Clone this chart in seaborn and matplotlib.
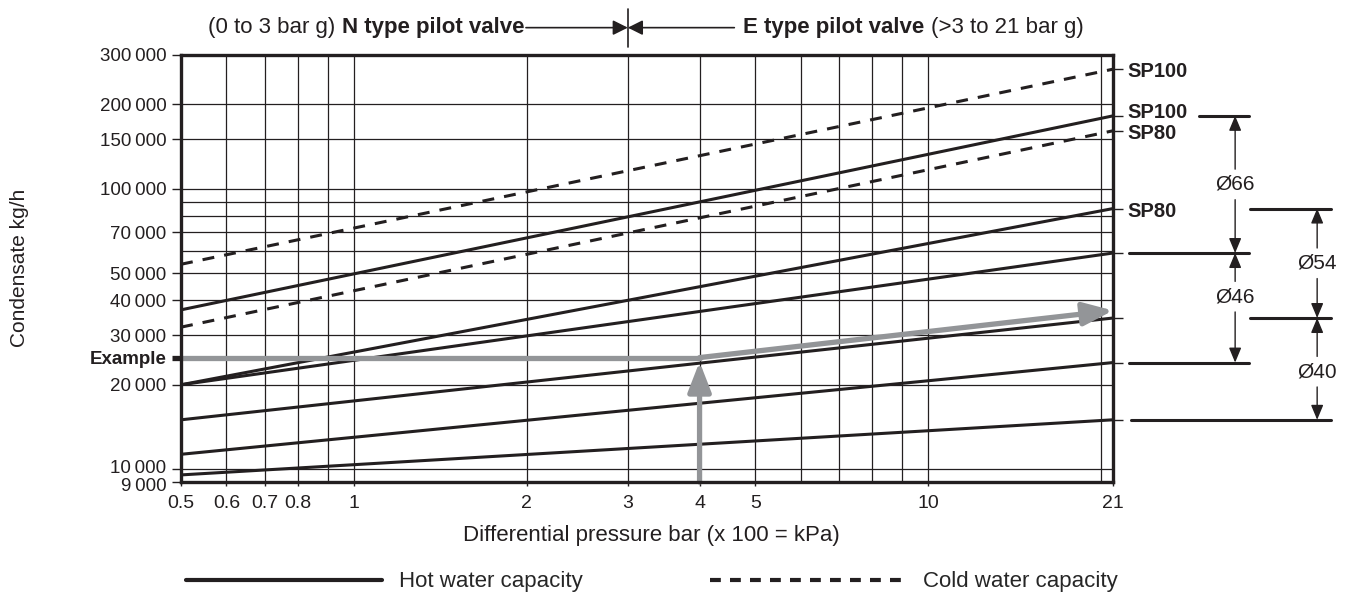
import numpy as np
import pandas as pd
import matplotlib
matplotlib.use('Agg')
import matplotlib.pyplot as plt
import matplotlib.transforms as mtransforms
from matplotlib.lines import Line2D
from matplotlib.ticker import NullLocator
import seaborn as sns

# --- data (kg/h at 0.5 bar and at 21 bar) ---
pressure = [0.5, 21]

hot_sp100 = [37000, 182000]    # top of Ø66
hot_sp80 = [20000, 85000]      # top of Ø54
hot_66_low = [20000, 59000]    # Ø66 / Ø46 boundary
hot_54_low = [15000, 34600]    # Ø54 / Ø40 boundary
hot_46_low = [11300, 24000]    # bottom of Ø46
hot_40_low = [9540, 15000]     # bottom of Ø40

cold_sp100 = [53800, 267000]
cold_sp80 = [32100, 161000]

example_dp = 4
example_flow = 25000
example_end = 36800

x_ticks = [0.5, 0.6, 0.7, 0.8, 1, 2, 3, 4, 5, 10, 21]
x_ticklabels = ['0.5', '0.6', '0.7', '0.8', '1', '2', '3', '4', '5', '10', '21']
y_ticks = [9000, 10000, 20000, 25000, 30000, 40000, 50000, 70000,
           100000, 150000, 200000, 300000]
y_ticklabels = ['9\u2009000', '10\u2009000', '20\u2009000', 'Example', '30\u2009000',
                '40\u2009000', '50\u2009000', '70\u2009000', '100\u2009000',
                '150\u2009000', '200\u2009000', '300\u2009000']
x_grid = [0.6, 0.7, 0.8, 0.9, 1, 2, 3, 4, 5, 6, 7, 8, 9, 10, 20]
y_grid = [10000, 20000, 30000, 40000, 50000, 60000, 70000, 80000, 90000,
          100000, 150000, 200000]

# --- style ---
sns.set_style('ticks')
plt.rcParams['font.family'] = ['Liberation Sans', 'DejaVu Sans']
BLACK = '#231f20'
GREY = '#939598'
LW = 2.2
DASH = (0, (3.9, 3.3))

fig = plt.figure(figsize=(13.48, 5.95), dpi=100)
ax = fig.add_axes([0.1343, 0.1899, 0.6914, 0.7177])
ax.set_xscale('log')
ax.set_yscale('log')

for v in x_grid:
    ax.axvline(v, color=BLACK, lw=0.9, zorder=1)
for v in y_grid:
    ax.axhline(v, color=BLACK, lw=0.9, zorder=1)

# long-form table for seaborn
rows = []
for name, vals, kind in [('hot_sp100', hot_sp100, 'hot'), ('hot_sp80', hot_sp80, 'hot'),
                         ('hot_66_low', hot_66_low, 'hot'), ('hot_54_low', hot_54_low, 'hot'),
                         ('hot_46_low', hot_46_low, 'hot'), ('hot_40_low', hot_40_low, 'hot'),
                         ('cold_sp100', cold_sp100, 'cold'), ('cold_sp80', cold_sp80, 'cold')]:
    for p, q in zip(pressure, vals):
        rows.append({'curve': name, 'kind': kind, 'pressure': p, 'flow': q})
df = pd.DataFrame(rows)

for name, sub in df.groupby('curve', sort=False):
    ls = '-' if sub['kind'].iloc[0] == 'hot' else DASH
    sns.lineplot(data=sub, x='pressure', y='flow', ax=ax, color=BLACK, lw=LW,
                 linestyle=ls, zorder=3, legend=False)

# example path
sns.lineplot(x=[pressure[0], example_dp], y=[example_flow, example_flow], ax=ax,
             color=GREY, lw=3.8, zorder=5, legend=False)
ax.annotate('', xy=(example_dp, example_flow), xytext=(example_dp, y_ticks[0]),
            arrowprops=dict(arrowstyle='-|>,head_length=0.9,head_width=0.35',
                            mutation_scale=20, color=GREY, lw=3.8,
                            shrinkA=0, shrinkB=3), zorder=5)
ax.annotate('', xy=(pressure[1], example_end), xytext=(example_dp, example_flow),
            arrowprops=dict(arrowstyle='-|>,head_length=0.9,head_width=0.35',
                            mutation_scale=20, color=GREY, lw=3.8,
                            shrinkA=0, shrinkB=0), zorder=5)

# axes, ticks
ax.set_xlim(pressure[0], pressure[1])
ax.set_ylim(y_ticks[0], y_ticks[-1])
ax.set_xticks(x_ticks, x_ticklabels)
# the two lowest labels sit very close; they are drawn below with a small nudge
ax.set_yticks(y_ticks, [''] * 2 + y_ticklabels[2:])
ax.xaxis.set_minor_locator(NullLocator())
ax.yaxis.set_minor_locator(NullLocator())
ax.tick_params(axis='x', length=3, width=1, pad=6, labelsize=14, colors=BLACK)
ax.tick_params(axis='y', length=6.5, width=1, pad=4, labelsize=13.5, colors=BLACK)
ex_idx = y_ticks.index(example_flow)
ex_tick = ax.yaxis.get_major_ticks()[ex_idx]
ex_tick.tick1line.set_color(GREY)
ex_tick.tick1line.set_markeredgewidth(3.8)
ax.get_yticklabels()[ex_idx].set_fontweight('bold')
for s in ax.spines.values():
    s.set_linewidth(2.4)
    s.set_color(BLACK)
    s.set_zorder(6)

blend = mtransforms.blended_transform_factory(ax.transAxes, ax.transData)
for val, lab, dy in [(y_ticks[0], y_ticklabels[0], -1.6), (y_ticks[1], y_ticklabels[1], 1.8)]:
    ax.annotate(lab, xy=(0, val), xycoords=blend, xytext=(-10.5, dy),
                textcoords='offset points', ha='right', va='center_baseline',
                fontsize=13.5, color=BLACK, annotation_clip=False)

# right side end ticks
ax2 = ax.twinx()
ax2.set_yscale('log')
ax2.set_ylim(y_ticks[0], y_ticks[-1])
right_ticks = [cold_sp100[1], hot_sp100[1], cold_sp80[1], hot_sp80[1],
               hot_66_low[1], hot_54_low[1], hot_46_low[1], hot_40_low[1]]
ax2.set_yticks(right_ticks, [''] * len(right_ticks))
ax2.yaxis.set_minor_locator(NullLocator())
ax2.tick_params(axis='y', length=7, width=1, colors=BLACK)
for s in ax2.spines.values():
    s.set_visible(False)
ax2.grid(False)

# SP labels next to the line ends (small vertical nudges in points)
sp_labels = [('SP100', cold_sp100[1], -1.5), ('SP100', hot_sp100[1], 2.2),
             ('SP80', cold_sp80[1], -2.2), ('SP80', hot_sp80[1], -2.2)]
for lab, yv, dy in sp_labels:
    ax.annotate(lab, xy=(1.0, yv), xycoords=blend, xytext=(10, dy),
                textcoords='offset points', ha='left', va='center', fontsize=14.5,
                fontweight='bold', color=BLACK, annotation_clip=False)

# size brackets on the right
bars = [(hot_sp100[1], 1.092, 1.146), (hot_66_low[1], 1.017, 1.146),
        (hot_46_low[1], 1.017, 1.146), (hot_sp80[1], 1.147, 1.234),
        (hot_54_low[1], 1.147, 1.234), (hot_40_low[1], 1.019, 1.234)]
for yv, x0, x1 in bars:
    ax.add_line(Line2D([x0, x1], [yv, yv], transform=blend, color=BLACK,
                       lw=2.2, clip_on=False))

sizes = [('Ø66', 1.131, hot_sp100[1], hot_66_low[1], 0),
         ('Ø46', 1.131, hot_66_low[1], hot_46_low[1], 8),
         ('Ø54', 1.219, hot_sp80[1], hot_54_low[1], 0),
         ('Ø40', 1.219, hot_54_low[1], hot_40_low[1], -2)]
for lab, xf, top, bot, dy in sizes:
    mid = np.sqrt(top * bot)
    lbl = ax.annotate(lab, xy=(xf, mid), xycoords=blend, xytext=(0, dy),
                      textcoords='offset points', ha='center', va='center',
                      fontsize=15, color=BLACK, annotation_clip=False)
    for end in (top, bot):
        ax.annotate('', xy=(xf, end), xycoords=blend, xytext=(0.5, 0.5),
                    textcoords=lbl,
                    arrowprops=dict(arrowstyle='-|>,head_length=0.6,head_width=0.25',
                                    mutation_scale=15, color=BLACK, lw=1,
                                    shrinkA=11, shrinkB=0),
                    annotation_clip=False)

# header: N / E type pilot valve
hdr = mtransforms.blended_transform_factory(ax.transData, ax.transAxes)
n_txt = ax.text(0.3686, 1.064, 'N type pilot valve', transform=ax.transAxes,
                ha='right', va='center', fontsize=16, fontweight='bold', color=BLACK)
ax.annotate('(0 to 3 bar g)', xy=(0, 0), xycoords=n_txt, xytext=(-5, 0),
            textcoords='offset points', ha='right', va='bottom', fontsize=16, color=BLACK)
e_txt = ax.text(0.6026, 1.064, 'E type pilot valve', transform=ax.transAxes,
                ha='left', va='center', fontsize=16, fontweight='bold', color=BLACK)
ax.annotate('(>3 to 21 bar g)', xy=(1, 0), xycoords=e_txt, xytext=(5, 0),
            textcoords='offset points', ha='left', va='bottom', fontsize=16, color=BLACK)
split = 3
hstyle = dict(arrowstyle='-|>,head_length=0.9,head_width=0.45', mutation_scale=10,
              color=BLACK, lw=1.2, shrinkB=0)
ax.annotate('', xy=(split, 1.064), xycoords=hdr, xytext=(1, 0.5), textcoords=n_txt,
            arrowprops=dict(shrinkA=1, **hstyle), annotation_clip=False)
ax.annotate('', xy=(split, 1.064), xycoords=hdr, xytext=(0, 0.5), textcoords=e_txt,
            arrowprops=dict(shrinkA=6, **hstyle), annotation_clip=False)
ax.add_line(Line2D([split, split], [1.0187, 1.1077], transform=hdr, color=BLACK,
                   lw=1.2, clip_on=False))

# axis labels
fig.text(0.483, 0.0992, 'Differential pressure bar (x 100 = kPa)', ha='center',
         va='center', fontsize=16, color=BLACK)
fig.text(0.0141, 0.5496, 'Condensate kg/h', rotation=90, ha='center', va='center',
         fontsize=15, color=BLACK)

# legend
handles = [Line2D([], [], color=BLACK, lw=3, linestyle='-'),
           Line2D([], [], color=BLACK, lw=3, linestyle=(0, (2.6, 2.2)))]
fig.legend(handles, ['Hot water capacity', 'Cold water capacity'], loc='center',
           bbox_to_anchor=(0.4837, 0.022), ncol=2, frameon=False, fontsize=16,
           handlelength=8.8, handletextpad=0.8, columnspacing=5.7)

ax.set_xlim(pressure[0], pressure[1])
ax.set_ylim(y_ticks[0], y_ticks[-1])
ax.set_xlabel('')
ax.set_ylabel('')
ax2.set_ylabel('')

fig.savefig('out.png', dpi=100)
